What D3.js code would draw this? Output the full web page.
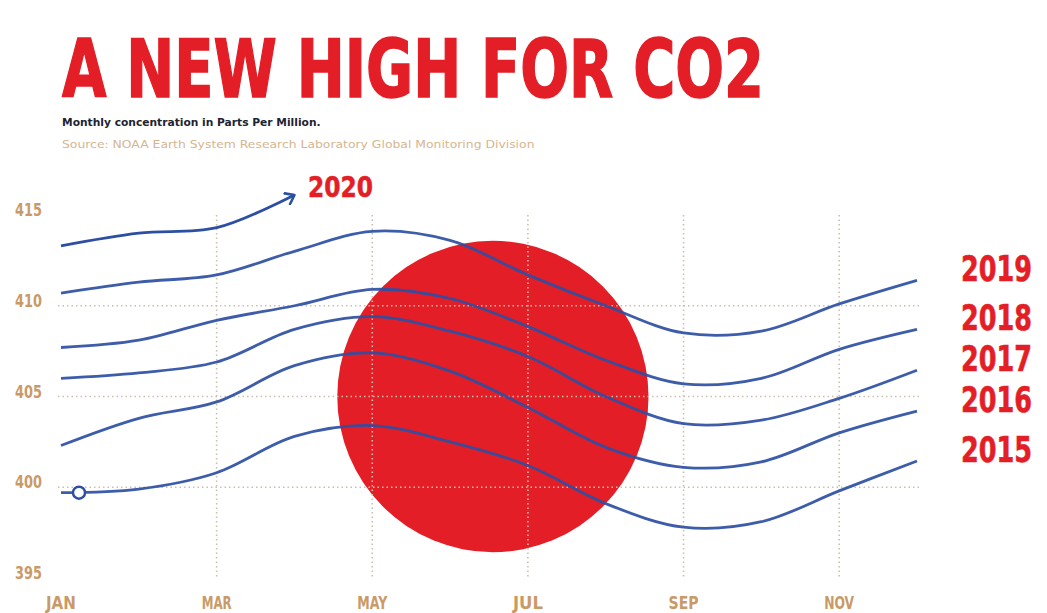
<!DOCTYPE html>
<html>
<head>
<meta charset="utf-8">
<script src="https://cdn.jsdelivr.net/npm/d3@7"></script>
<style>
  body { margin: 0; background: #fff; }
  text { font-family: 'DejaVu Sans Condensed', 'DejaVu Sans', sans-serif; }
</style>
</head>
<body>
<div id="chart"></div>
<script>
// data (ppm, monthly)
const months = ["JAN", "FEB", "MAR", "APR", "MAY", "JUN", "JUL", "AUG", "SEP", "OCT", "NOV", "DEC"];
const tickMonths = ["MAR", "MAY", "JUL", "SEP", "NOV"];
const labelMonths = ["JAN", "MAR", "MAY", "JUL", "SEP", "NOV"];
const yTicks = [395, 400, 405, 410, 415];
const gridValues = [400, 405, 410];
const years = ["2015", "2016", "2017", "2018", "2019"];
const co2_2015 = [399.7, 399.9, 400.8, 402.8, 403.4, 402.5, 401.2, 399.1, 397.8, 398.1, 399.8, 401.45];
const co2_2016 = [402.3, 403.8, 404.7, 406.7, 407.4, 406.4, 404.4, 402.2, 401.1, 401.4, 403.0, 404.2];
const co2_2017 = [406.0, 406.3, 406.9, 408.7, 409.4, 408.6, 407.2, 405.0, 403.5, 403.7, 404.9, 406.45];
const co2_2018 = [407.7, 408.1, 409.2, 410.0, 410.9, 410.4, 408.85, 407.0, 405.7, 406.0, 407.6, 408.7];
const co2_2019 = [410.7, 411.3, 411.7, 413.0, 414.1, 413.6, 411.7, 410.0, 408.5, 408.6, 410.1, 411.4];
const co2_2020 = [413.3, 414.0, 414.3, 416.1];
const series = [co2_2015, co2_2016, co2_2017, co2_2018, co2_2019];

const width = 1047, height = 613;
const red = "#e41e26", blue = "#2c4fa3", tan = "#c99a68";

const svg = d3.select("#chart")
  .append("svg")
  .attr("width", width)
  .attr("height", height);

svg.append("rect").attr("width", width).attr("height", height).attr("fill", "#fff");

// squeeze a text horizontally so it spans w pixels (the fonts here are wider than the original one)
function fit(sel, x0, y0, w) {
  sel.each(function () {
    const t = d3.select(this);
    const len = this.getComputedTextLength();
    t.attr("x", 0).attr("y", 0)
      .attr("transform", `translate(${x0},${y0}) scale(${w / len},1)`);
  });
}

// scales
const x = d3.scalePoint().domain(months).range([61, 917]);
const y = d3.scaleLinear().domain([395, 415]).range([578, 215]);
const step = x.step();

// title block
svg.append("text")
  .attr("font-size", 80).attr("font-weight", 700)
  .attr("fill", red).attr("stroke", red).attr("stroke-width", 1.5)
  .text("A NEW HIGH FOR CO2")
  .call(fit, 62, 97, 702);

svg.append("text")
  .attr("font-size", 11).attr("font-weight", 700).attr("fill", "#1e2330")
  .text("Monthly concentration in Parts Per Million.")
  .call(fit, 62, 126, 259);

svg.append("text")
  .attr("font-size", 11).attr("fill", "#d6b591")
  .text("Source: NOAA Earth System Research Laboratory Global Monitoring Division")
  .call(fit, 62, 148, 473);

// the red sun
svg.append("circle")
  .attr("cx", x("JUN") + step * 0.55)
  .attr("cy", y(405))
  .attr("r", step * 2)
  .attr("fill", red);

// grid
svg.append("g")
  .selectAll("line")
  .data(gridValues)
  .join("line")
  .attr("x1", 58).attr("x2", 920)
  .attr("y1", d => y(d)).attr("y2", d => y(d))
  .attr("stroke", "#cdbfae").attr("stroke-width", 1.6)
  .attr("stroke-dasharray", "1.5,3");

svg.append("g")
  .selectAll("line")
  .data(tickMonths)
  .join("line")
  .attr("x1", d => x(d)).attr("x2", d => x(d))
  .attr("y1", y(415)).attr("y2", y(395))
  .attr("stroke", "#cdbfae").attr("stroke-width", 1.6)
  .attr("stroke-dasharray", "1.5,3");

// axis labels
svg.append("g")
  .selectAll("text")
  .data(yTicks)
  .join("text")
  .attr("font-size", 17).attr("font-weight", 700).attr("fill", tan)
  .text(d => d)
  .each(function (d) { d3.select(this).call(fit, 15, y(d) + 1, 27); });

svg.append("g")
  .selectAll("text")
  .data(labelMonths)
  .join("text")
  .attr("font-size", 17).attr("font-weight", 700).attr("fill", tan)
  .text(d => d)
  .each(function (d) { d3.select(this).call(fit, x(d) - 15, 609, 30); });

// lines
const line = d3.line()
  .x((d, i) => x(months[i]))
  .y(d => y(d))
  .curve(d3.curveCatmullRom.alpha(0.5));

svg.append("defs").append("marker")
  .attr("id", "arrow")
  .attr("viewBox", "0 0 12 14")
  .attr("refX", 10).attr("refY", 7)
  .attr("markerWidth", 12).attr("markerHeight", 14)
  .attr("markerUnits", "userSpaceOnUse")
  .attr("orient", "auto")
  .append("path")
  .attr("d", "M2,1 L10,7 L2,13")
  .attr("fill", "none").attr("stroke", blue).attr("stroke-width", 2.6)
  .attr("stroke-linecap", "round").attr("stroke-linejoin", "round");

svg.append("g")
  .selectAll("path")
  .data(series)
  .join("path")
  .attr("d", line)
  .attr("fill", "none")
  .attr("stroke", blue)
  .attr("stroke-width", 2.8)
  .attr("stroke-opacity", 0.92);

svg.append("path")
  .datum(co2_2020)
  .attr("d", line)
  .attr("fill", "none")
  .attr("stroke", blue)
  .attr("stroke-width", 2.8)
  .attr("marker-end", "url(#arrow)");

// start marker on 2015
svg.append("circle")
  .attr("cx", x(months[0]) + 18)
  .attr("cy", y(co2_2015[0]))
  .attr("r", 6)
  .attr("fill", "#fff")
  .attr("stroke", blue)
  .attr("stroke-width", 2.4);

// year labels
svg.append("g")
  .selectAll("text")
  .data(years)
  .join("text")
  .attr("font-size", 36).attr("font-weight", 700)
  .attr("fill", red).attr("stroke", red).attr("stroke-width", 0.6)
  .text(d => d)
  .each(function (d, i) {
    d3.select(this).call(fit, 961, y(series[i][series[i].length - 1]) + 1, 71);
  });

svg.append("text")
  .attr("font-size", 29).attr("font-weight", 700)
  .attr("fill", red).attr("stroke", red).attr("stroke-width", 0.5)
  .text("2020")
  .call(fit, 308, 197, 65);
</script>
</body>
</html>
